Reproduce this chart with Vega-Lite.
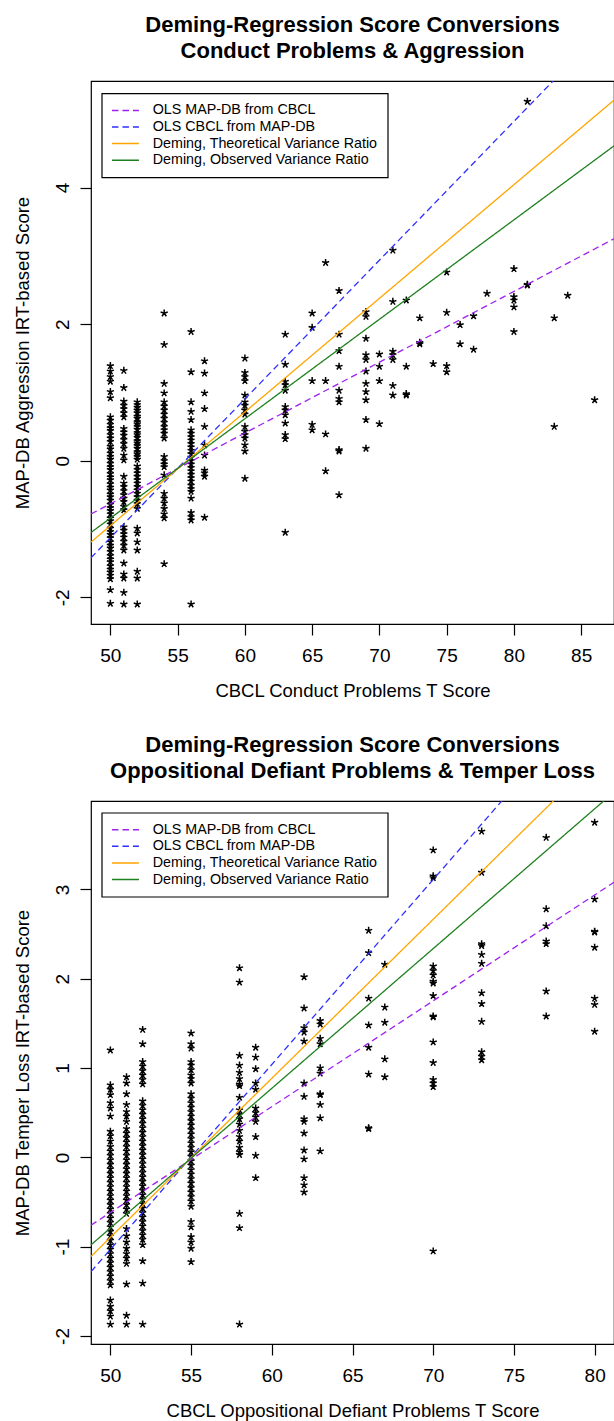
{
"$schema": "https://vega.github.io/schema/vega-lite/v6.json",
"padding": {"left": 12, "top": 13, "right": 2, "bottom": 4},
"background": "white",
"bounds": "flush",
"spacing": 177,
"resolve": {"scale": {"color": "independent", "strokeDash": "independent"}, "legend": {"color": "independent", "strokeDash": "independent"}},
"config": {
  "font": "Liberation Sans",
  "view": {"stroke": "black", "strokeWidth": 1.2},
  "axis": {"domain": false, "grid": false, "ticks": true, "tickColor": "black", "tickSize": 11, "tickWidth": 1.2, "labelFont": "Liberation Sans", "labelFontSize": 19, "labelColor": "black", "titleFont": "Liberation Sans", "titleFontSize": 18.5, "titleFontWeight": "normal", "titleColor": "black", "labelFlush": false, "labelOverlap": false, "labelExpr": "'' + datum.value"},
  "axisX": {"labelPadding": 11, "titlePadding": 16},
  "axisY": {"labelAngle": -90, "labelAlign": "center", "labelBaseline": "alphabetic", "labelPadding": 12, "titlePadding": 21},
  "title": {"font": "Liberation Sans", "fontSize": 22, "fontWeight": "bold", "color": "black", "anchor": "middle", "lineHeight": 26.6, "offset": 17.5},
  "legend": {"labelFont": "Liberation Sans", "labelFontSize": 14.3, "labelColor": "black", "strokeColor": "black", "strokeWidth": 1.2, "padding": 9.5, "fillColor": "white", "symbolStrokeWidth": 1.5, "labelOffset": 26.5, "rowPadding": 1.6, "labelLimit": 0}
},
"datasets": {
  "p1pts": [
    {"x":50,"y":1.39},{"x":50,"y":1.31},{"x":50,"y":1.23},{"x":50,"y":1.16},{"x":50,"y":1.01},{"x":50,"y":0.92},{"x":50,"y":0.64},{"x":50,"y":0.59},{"x":50,"y":0.53},{"x":50,"y":0.48},{"x":50,"y":0.44},{"x":50,"y":0.38},{"x":50,"y":0.33},{"x":50,"y":0.28},{"x":50,"y":0.21},{"x":50,"y":0.17},{"x":50,"y":0.11},{"x":50,"y":0.06},{"x":50,"y":0.02},{"x":50,"y":-0.04},{"x":50,"y":-0.09},{"x":50,"y":-0.13},{"x":50,"y":-0.19},{"x":50,"y":-0.24},{"x":50,"y":-0.28},{"x":50,"y":-0.34},{"x":50,"y":-0.39},{"x":50,"y":-0.43},{"x":50,"y":-0.49},{"x":50,"y":-0.53},{"x":50,"y":-0.58},{"x":50,"y":-0.64},{"x":50,"y":-0.69},{"x":50,"y":-0.73},{"x":50,"y":-0.78},{"x":50,"y":-0.84},{"x":50,"y":-0.88},{"x":50,"y":-0.93},{"x":50,"y":-0.99},{"x":50,"y":-1.04},{"x":50,"y":-1.08},{"x":50,"y":-1.13},{"x":50,"y":-1.19},{"x":50,"y":-1.24},{"x":50,"y":-1.28},{"x":50,"y":-1.33},{"x":50,"y":-1.39},{"x":50,"y":-1.44},{"x":50,"y":-1.48},{"x":50,"y":-1.54},{"x":50,"y":-1.59},{"x":50,"y":-1.63},{"x":50,"y":-1.68},{"x":50,"y":-1.73},{"x":50,"y":-1.89},{"x":50,"y":-2.09},
    {"x":51,"y":1.32},{"x":51,"y":1.07},{"x":51,"y":0.87},{"x":51,"y":0.81},{"x":51,"y":0.76},{"x":51,"y":0.70},{"x":51,"y":0.64},{"x":51,"y":0.47},{"x":51,"y":0.42},{"x":51,"y":0.37},{"x":51,"y":0.31},{"x":51,"y":0.25},{"x":51,"y":0.18},{"x":51,"y":0.08},{"x":51,"y":0.01},{"x":51,"y":-0.23},{"x":51,"y":-0.33},{"x":51,"y":-0.38},{"x":51,"y":-0.44},{"x":51,"y":-0.50},{"x":51,"y":-0.55},{"x":51,"y":-0.60},{"x":51,"y":-0.67},{"x":51,"y":-0.72},{"x":51,"y":-0.97},{"x":51,"y":-1.02},{"x":51,"y":-1.07},{"x":51,"y":-1.12},{"x":51,"y":-1.18},{"x":51,"y":-1.24},{"x":51,"y":-1.31},{"x":51,"y":-1.50},{"x":51,"y":-1.66},{"x":51,"y":-1.72},{"x":51,"y":-1.93},{"x":51,"y":-2.10},
    {"x":52,"y":0.86},{"x":52,"y":0.82},{"x":52,"y":0.78},{"x":52,"y":0.74},{"x":52,"y":0.70},{"x":52,"y":0.65},{"x":52,"y":0.62},{"x":52,"y":0.57},{"x":52,"y":0.54},{"x":52,"y":0.50},{"x":52,"y":0.46},{"x":52,"y":0.41},{"x":52,"y":0.38},{"x":52,"y":0.34},{"x":52,"y":0.29},{"x":52,"y":0.26},{"x":52,"y":0.22},{"x":52,"y":0.18},{"x":52,"y":0.13},{"x":52,"y":0.10},{"x":52,"y":0.06},{"x":52,"y":0.02},{"x":52,"y":-0.08},{"x":52,"y":-0.13},{"x":52,"y":-0.18},{"x":52,"y":-0.23},{"x":52,"y":-0.28},{"x":52,"y":-0.33},{"x":52,"y":-0.38},{"x":52,"y":-0.43},{"x":52,"y":-0.48},{"x":52,"y":-0.53},{"x":52,"y":-0.58},{"x":52,"y":-0.63},{"x":52,"y":-0.70},{"x":52,"y":-0.99},{"x":52,"y":-1.06},{"x":52,"y":-1.19},{"x":52,"y":-1.31},{"x":52,"y":-1.62},{"x":52,"y":-1.72},{"x":52,"y":-2.10},
    {"x":54,"y":2.16},{"x":54,"y":1.70},{"x":54,"y":1.13},{"x":54,"y":0.99},{"x":54,"y":0.86},{"x":54,"y":0.80},{"x":54,"y":0.74},{"x":54,"y":0.68},{"x":54,"y":0.62},{"x":54,"y":0.56},{"x":54,"y":0.50},{"x":54,"y":0.45},{"x":54,"y":0.40},{"x":54,"y":0.33},{"x":54,"y":0.06},{"x":54,"y":0.00},{"x":54,"y":-0.05},{"x":54,"y":-0.09},{"x":54,"y":-0.21},{"x":54,"y":-0.48},{"x":54,"y":-0.55},{"x":54,"y":-0.62},{"x":54,"y":-0.70},{"x":54,"y":-0.78},{"x":54,"y":-0.84},{"x":54,"y":-1.51},
    {"x":56,"y":1.89},{"x":56,"y":1.30},{"x":56,"y":0.86},{"x":56,"y":0.72},{"x":56,"y":0.60},{"x":56,"y":0.45},{"x":56,"y":0.40},{"x":56,"y":0.35},{"x":56,"y":0.30},{"x":56,"y":0.25},{"x":56,"y":0.20},{"x":56,"y":0.15},{"x":56,"y":0.10},{"x":56,"y":0.05},{"x":56,"y":0.00},{"x":56,"y":-0.05},{"x":56,"y":-0.10},{"x":56,"y":-0.15},{"x":56,"y":-0.20},{"x":56,"y":-0.25},{"x":56,"y":-0.30},{"x":56,"y":-0.36},{"x":56,"y":-0.41},{"x":56,"y":-0.45},{"x":56,"y":-0.55},{"x":56,"y":-0.76},{"x":56,"y":-0.82},{"x":56,"y":-0.87},{"x":56,"y":-2.10},
    {"x":57,"y":1.46},{"x":57,"y":1.28},{"x":57,"y":0.99},{"x":57,"y":0.76},{"x":57,"y":0.50},{"x":57,"y":0.23},{"x":57,"y":0.08},{"x":57,"y":-0.14},{"x":57,"y":-0.18},{"x":57,"y":-0.23},{"x":57,"y":-0.83},
    {"x":60,"y":1.50},{"x":60,"y":1.29},{"x":60,"y":1.23},{"x":60,"y":1.17},{"x":60,"y":0.96},{"x":60,"y":0.86},{"x":60,"y":0.81},{"x":60,"y":0.74},{"x":60,"y":0.68},{"x":60,"y":0.50},{"x":60,"y":0.43},{"x":60,"y":0.38},{"x":60,"y":0.33},{"x":60,"y":0.23},{"x":60,"y":0.14},{"x":60,"y":-0.26},
    {"x":63,"y":1.85},{"x":63,"y":1.41},{"x":63,"y":1.16},{"x":63,"y":1.11},{"x":63,"y":1.03},{"x":63,"y":0.79},{"x":63,"y":0.74},{"x":63,"y":0.67},{"x":63,"y":0.55},{"x":63,"y":0.38},{"x":63,"y":0.32},{"x":63,"y":-1.05},
    {"x":65,"y":2.16},{"x":65,"y":1.95},{"x":65,"y":1.17},{"x":65,"y":0.53},{"x":65,"y":0.45},
    {"x":66,"y":2.90},{"x":66,"y":1.17},{"x":66,"y":0.39},{"x":66,"y":-0.15},
    {"x":67,"y":2.49},{"x":67,"y":1.85},{"x":67,"y":1.61},{"x":67,"y":1.38},{"x":67,"y":1.03},{"x":67,"y":0.91},{"x":67,"y":0.86},{"x":67,"y":0.16},{"x":67,"y":0.14},{"x":67,"y":-0.50},
    {"x":69,"y":2.18},{"x":69,"y":2.11},{"x":69,"y":1.79},{"x":69,"y":1.55},{"x":69,"y":1.48},{"x":69,"y":1.31},{"x":69,"y":1.13},{"x":69,"y":1.01},{"x":69,"y":0.89},{"x":69,"y":0.60},{"x":69,"y":0.18},
    {"x":70,"y":1.56},{"x":70,"y":1.38},{"x":70,"y":1.17},{"x":70,"y":0.54},
    {"x":71,"y":3.08},{"x":71,"y":2.33},{"x":71,"y":1.60},{"x":71,"y":1.55},{"x":71,"y":1.48},{"x":71,"y":1.10},{"x":71,"y":0.96},
    {"x":72,"y":2.35},{"x":72,"y":1.38},{"x":72,"y":0.98},{"x":72,"y":0.96},
    {"x":73,"y":2.09},{"x":73,"y":1.73},{"x":73,"y":1.71},
    {"x":74,"y":1.42},
    {"x":75,"y":2.76},{"x":75,"y":2.17},{"x":75,"y":1.39},{"x":75,"y":1.30},
    {"x":76,"y":1.99},{"x":76,"y":1.71},
    {"x":77,"y":2.12},{"x":77,"y":1.63},
    {"x":78,"y":2.45},
    {"x":80,"y":2.81},{"x":80,"y":2.40},{"x":80,"y":2.35},{"x":80,"y":2.25},{"x":80,"y":1.89},
    {"x":81,"y":5.26},{"x":81,"y":2.58},{"x":81,"y":2.57},
    {"x":83,"y":2.09},{"x":83,"y":0.50},
    {"x":84,"y":2.42},
    {"x":86,"y":0.89}
  ],
  "p1lines": [
    {"series":"OLS MAP-DB from CBCL","x":48.56,"y":-0.78},{"series":"OLS MAP-DB from CBCL","x":87.44,"y":3.25},
    {"series":"OLS CBCL from MAP-DB","x":48.56,"y":-1.42},{"series":"OLS CBCL from MAP-DB","x":87.44,"y":6.48},
    {"series":"Deming, Theoretical Variance Ratio","x":48.56,"y":-1.19},{"series":"Deming, Theoretical Variance Ratio","x":87.44,"y":5.28},
    {"series":"Deming, Observed Variance Ratio","x":48.56,"y":-1.05},{"series":"Deming, Observed Variance Ratio","x":87.44,"y":4.61}
  ],
  "p2pts": [
    {"x":50,"y":1.20},{"x":50,"y":0.81},{"x":50,"y":0.76},{"x":50,"y":0.70},{"x":50,"y":0.61},{"x":50,"y":0.55},{"x":50,"y":0.46},{"x":50,"y":0.29},{"x":50,"y":0.24},{"x":50,"y":0.18},{"x":50,"y":0.12},{"x":50,"y":0.07},{"x":50,"y":0.02},{"x":50,"y":-0.03},{"x":50,"y":-0.08},{"x":50,"y":-0.13},{"x":50,"y":-0.18},{"x":50,"y":-0.23},{"x":50,"y":-0.28},{"x":50,"y":-0.33},{"x":50,"y":-0.38},{"x":50,"y":-0.43},{"x":50,"y":-0.48},{"x":50,"y":-0.53},{"x":50,"y":-0.58},{"x":50,"y":-0.63},{"x":50,"y":-0.68},{"x":50,"y":-0.73},{"x":50,"y":-0.78},{"x":50,"y":-0.83},{"x":50,"y":-0.88},{"x":50,"y":-0.93},{"x":50,"y":-0.98},{"x":50,"y":-1.03},{"x":50,"y":-1.08},{"x":50,"y":-1.13},{"x":50,"y":-1.18},{"x":50,"y":-1.23},{"x":50,"y":-1.28},{"x":50,"y":-1.33},{"x":50,"y":-1.38},{"x":50,"y":-1.43},{"x":50,"y":-1.60},{"x":50,"y":-1.67},{"x":50,"y":-1.72},{"x":50,"y":-1.78},{"x":50,"y":-1.87},
    {"x":51,"y":0.90},{"x":51,"y":0.83},{"x":51,"y":0.71},{"x":51,"y":0.59},{"x":51,"y":0.51},{"x":51,"y":0.46},{"x":51,"y":0.40},{"x":51,"y":0.32},{"x":51,"y":0.27},{"x":51,"y":0.22},{"x":51,"y":0.17},{"x":51,"y":0.12},{"x":51,"y":0.07},{"x":51,"y":0.02},{"x":51,"y":-0.03},{"x":51,"y":-0.08},{"x":51,"y":-0.13},{"x":51,"y":-0.18},{"x":51,"y":-0.23},{"x":51,"y":-0.28},{"x":51,"y":-0.33},{"x":51,"y":-0.38},{"x":51,"y":-0.43},{"x":51,"y":-0.48},{"x":51,"y":-0.53},{"x":51,"y":-0.58},{"x":51,"y":-0.63},{"x":51,"y":-0.80},{"x":51,"y":-0.88},{"x":51,"y":-0.95},{"x":51,"y":-1.02},{"x":51,"y":-1.08},{"x":51,"y":-1.13},{"x":51,"y":-1.19},{"x":51,"y":-1.42},{"x":51,"y":-1.77},{"x":51,"y":-1.87},
    {"x":52,"y":1.43},{"x":52,"y":1.27},{"x":52,"y":1.07},{"x":52,"y":1.02},{"x":52,"y":0.97},{"x":52,"y":0.92},{"x":52,"y":0.87},{"x":52,"y":0.82},{"x":52,"y":0.63},{"x":52,"y":0.58},{"x":52,"y":0.53},{"x":52,"y":0.48},{"x":52,"y":0.43},{"x":52,"y":0.38},{"x":52,"y":0.33},{"x":52,"y":0.28},{"x":52,"y":0.23},{"x":52,"y":0.18},{"x":52,"y":0.13},{"x":52,"y":0.08},{"x":52,"y":0.03},{"x":52,"y":-0.02},{"x":52,"y":-0.07},{"x":52,"y":-0.12},{"x":52,"y":-0.17},{"x":52,"y":-0.22},{"x":52,"y":-0.27},{"x":52,"y":-0.32},{"x":52,"y":-0.37},{"x":52,"y":-0.42},{"x":52,"y":-0.47},{"x":52,"y":-0.52},{"x":52,"y":-0.57},{"x":52,"y":-0.62},{"x":52,"y":-0.67},{"x":52,"y":-0.72},{"x":52,"y":-0.77},{"x":52,"y":-0.82},{"x":52,"y":-0.87},{"x":52,"y":-0.92},{"x":52,"y":-0.98},{"x":52,"y":-1.16},{"x":52,"y":-1.41},{"x":52,"y":-1.87},
    {"x":55,"y":1.39},{"x":55,"y":1.27},{"x":55,"y":1.22},{"x":55,"y":1.07},{"x":55,"y":1.03},{"x":55,"y":0.98},{"x":55,"y":0.92},{"x":55,"y":0.88},{"x":55,"y":0.83},{"x":55,"y":0.71},{"x":55,"y":0.66},{"x":55,"y":0.61},{"x":55,"y":0.56},{"x":55,"y":0.51},{"x":55,"y":0.46},{"x":55,"y":0.41},{"x":55,"y":0.36},{"x":55,"y":0.31},{"x":55,"y":0.26},{"x":55,"y":0.21},{"x":55,"y":0.16},{"x":55,"y":0.11},{"x":55,"y":0.06},{"x":55,"y":0.01},{"x":55,"y":-0.04},{"x":55,"y":-0.09},{"x":55,"y":-0.14},{"x":55,"y":-0.19},{"x":55,"y":-0.24},{"x":55,"y":-0.29},{"x":55,"y":-0.34},{"x":55,"y":-0.39},{"x":55,"y":-0.44},{"x":55,"y":-0.49},{"x":55,"y":-0.55},{"x":55,"y":-0.72},{"x":55,"y":-0.78},{"x":55,"y":-0.89},{"x":55,"y":-0.95},{"x":55,"y":-1.02},{"x":55,"y":-1.17},
    {"x":58,"y":2.12},{"x":58,"y":1.96},{"x":58,"y":1.14},{"x":58,"y":1.03},{"x":58,"y":0.95},{"x":58,"y":0.88},{"x":58,"y":0.82},{"x":58,"y":0.80},{"x":58,"y":0.67},{"x":58,"y":0.53},{"x":58,"y":0.48},{"x":58,"y":0.43},{"x":58,"y":0.37},{"x":58,"y":0.30},{"x":58,"y":0.23},{"x":58,"y":0.18},{"x":58,"y":0.11},{"x":58,"y":0.06},{"x":58,"y":0.03},{"x":58,"y":-0.63},{"x":58,"y":-0.79},{"x":58,"y":-1.87},
    {"x":59,"y":1.23},{"x":59,"y":1.12},{"x":59,"y":0.99},{"x":59,"y":0.83},{"x":59,"y":0.76},{"x":59,"y":0.55},{"x":59,"y":0.50},{"x":59,"y":0.45},{"x":59,"y":0.40},{"x":59,"y":0.23},{"x":59,"y":0.02},{"x":59,"y":-0.23},
    {"x":62,"y":2.02},{"x":62,"y":1.67},{"x":62,"y":1.45},{"x":62,"y":1.40},{"x":62,"y":1.30},{"x":62,"y":0.83},{"x":62,"y":0.68},{"x":62,"y":0.43},{"x":62,"y":0.40},{"x":62,"y":0.27},{"x":62,"y":0.08},{"x":62,"y":-0.02},{"x":62,"y":-0.23},{"x":62,"y":-0.31},{"x":62,"y":-0.39},
    {"x":63,"y":1.53},{"x":63,"y":1.49},{"x":63,"y":1.33},{"x":63,"y":1.27},{"x":63,"y":1.00},{"x":63,"y":0.94},{"x":63,"y":0.71},{"x":63,"y":0.70},{"x":63,"y":0.59},{"x":63,"y":0.44},{"x":63,"y":0.07},
    {"x":66,"y":2.54},{"x":66,"y":2.29},{"x":66,"y":1.78},{"x":66,"y":1.48},{"x":66,"y":1.23},{"x":66,"y":0.93},{"x":66,"y":0.32},{"x":66,"y":0.33},
    {"x":67,"y":2.16},{"x":67,"y":1.68},{"x":67,"y":1.51},{"x":67,"y":1.10},{"x":67,"y":0.90},
    {"x":70,"y":3.44},{"x":70,"y":3.15},{"x":70,"y":3.13},{"x":70,"y":2.14},{"x":70,"y":2.09},{"x":70,"y":2.04},{"x":70,"y":1.97},{"x":70,"y":1.95},{"x":70,"y":1.81},{"x":70,"y":1.58},{"x":70,"y":1.57},{"x":70,"y":1.29},{"x":70,"y":1.06},{"x":70,"y":0.87},{"x":70,"y":0.83},{"x":70,"y":0.79},{"x":70,"y":-1.05},
    {"x":73,"y":3.65},{"x":73,"y":3.19},{"x":73,"y":2.39},{"x":73,"y":2.37},{"x":73,"y":2.27},{"x":73,"y":2.17},{"x":73,"y":1.84},{"x":73,"y":1.72},{"x":73,"y":1.52},{"x":73,"y":1.18},{"x":73,"y":1.13},{"x":73,"y":1.09},
    {"x":77,"y":3.58},{"x":77,"y":2.78},{"x":77,"y":2.59},{"x":77,"y":2.42},{"x":77,"y":2.39},{"x":77,"y":1.86},{"x":77,"y":1.58},
    {"x":80,"y":3.75},{"x":80,"y":2.89},{"x":80,"y":2.53},{"x":80,"y":2.52},{"x":80,"y":2.35},{"x":80,"y":1.78},{"x":80,"y":1.71},{"x":80,"y":1.41}
  ],
  "p2lines": [
    {"series":"OLS MAP-DB from CBCL","x":48.8,"y":-0.76},{"series":"OLS MAP-DB from CBCL","x":81.2,"y":3.08},
    {"series":"OLS CBCL from MAP-DB","x":48.8,"y":-1.28},{"series":"OLS CBCL from MAP-DB","x":81.2,"y":5.43},
    {"series":"Deming, Theoretical Variance Ratio","x":48.8,"y":-1.11},{"series":"Deming, Theoretical Variance Ratio","x":81.2,"y":4.66},
    {"series":"Deming, Observed Variance Ratio","x":48.8,"y":-0.98},{"series":"Deming, Observed Variance Ratio","x":81.2,"y":4.09}
  ]
},
"vconcat": [
  {
    "width": 523, "height": 543,
    "title": {"text": ["Deming-Regression Score Conversions", "Conduct Problems & Aggression"]},
    "layer": [
      {
        "data": {"name": "p1pts"},
        "mark": {"type": "point", "shape": "M0,-1L0,0M0.951,-0.309L0,0M0.588,0.809L0,0M-0.588,0.809L0,0M-0.951,-0.309L0,0", "size": 56, "filled": false, "stroke": "black", "strokeWidth": 1.5, "opacity": 1, "clip": true},
        "encoding": {
          "x": {"field": "x", "type": "quantitative", "scale": {"domain": [48.56, 87.44], "nice": false, "zero": false}, "axis": {"values": [50, 55, 60, 65, 70, 75, 80, 85], "title": "CBCL Conduct Problems T Score"}},
          "y": {"field": "y", "type": "quantitative", "scale": {"domain": [-2.39, 5.56], "nice": false, "zero": false}, "axis": {"values": [-2, 0, 2, 4], "title": "MAP-DB Aggression IRT-based Score"}}
        }
      },
      {
        "data": {"name": "p1lines"},
        "mark": {"type": "line", "strokeWidth": 1.3, "clip": true},
        "encoding": {
          "x": {"field": "x", "type": "quantitative", "scale": {"domain": [48.56, 87.44], "nice": false, "zero": false}},
          "y": {"field": "y", "type": "quantitative", "scale": {"domain": [-2.39, 5.56], "nice": false, "zero": false}},
          "color": {"field": "series", "type": "nominal", "scale": {"domain": ["OLS MAP-DB from CBCL", "OLS CBCL from MAP-DB", "Deming, Theoretical Variance Ratio", "Deming, Observed Variance Ratio"], "range": ["#A020F0", "#2f2fff", "#FFA500", "#1F801F"]}, "legend": {"title": null, "orient": "none", "legendX": 10.7, "legendY": 12.4, "symbolType": "M-1,0H3", "symbolSize": 182}},
          "strokeDash": {"field": "series", "type": "nominal", "scale": {"domain": ["OLS MAP-DB from CBCL", "OLS CBCL from MAP-DB", "Deming, Theoretical Variance Ratio", "Deming, Observed Variance Ratio"], "range": [[6.5, 4], [6.5, 4], [1, 0], [1, 0]]}, "legend": {"title": null, "orient": "none", "legendX": 10.7, "legendY": 12.4, "symbolType": "M-1,0H3", "symbolSize": 182}}
        }
      }
    ]
  },
  {
    "width": 523, "height": 543,
    "title": {"text": ["Deming-Regression Score Conversions", "Oppositional Defiant Problems & Temper Loss"]},
    "layer": [
      {
        "data": {"name": "p2pts"},
        "mark": {"type": "point", "shape": "M0,-1L0,0M0.951,-0.309L0,0M0.588,0.809L0,0M-0.588,0.809L0,0M-0.951,-0.309L0,0", "size": 56, "filled": false, "stroke": "black", "strokeWidth": 1.5, "opacity": 1, "clip": true},
        "encoding": {
          "x": {"field": "x", "type": "quantitative", "scale": {"domain": [48.8, 81.2], "nice": false, "zero": false}, "axis": {"values": [50, 55, 60, 65, 70, 75, 80], "title": "CBCL Oppositional Defiant Problems T Score"}},
          "y": {"field": "y", "type": "quantitative", "scale": {"domain": [-2.09, 3.99], "nice": false, "zero": false}, "axis": {"values": [-2, -1, 0, 1, 2, 3], "title": "MAP-DB Temper Loss IRT-based Score"}}
        }
      },
      {
        "data": {"name": "p2lines"},
        "mark": {"type": "line", "strokeWidth": 1.3, "clip": true},
        "encoding": {
          "x": {"field": "x", "type": "quantitative", "scale": {"domain": [48.8, 81.2], "nice": false, "zero": false}},
          "y": {"field": "y", "type": "quantitative", "scale": {"domain": [-2.09, 3.99], "nice": false, "zero": false}},
          "color": {"field": "series", "type": "nominal", "scale": {"domain": ["OLS MAP-DB from CBCL", "OLS CBCL from MAP-DB", "Deming, Theoretical Variance Ratio", "Deming, Observed Variance Ratio"], "range": ["#A020F0", "#2f2fff", "#FFA500", "#1F801F"]}, "legend": {"title": null, "orient": "none", "legendX": 10.7, "legendY": 11.7, "symbolType": "M-1,0H3", "symbolSize": 182}},
          "strokeDash": {"field": "series", "type": "nominal", "scale": {"domain": ["OLS MAP-DB from CBCL", "OLS CBCL from MAP-DB", "Deming, Theoretical Variance Ratio", "Deming, Observed Variance Ratio"], "range": [[6.5, 4], [6.5, 4], [1, 0], [1, 0]]}, "legend": {"title": null, "orient": "none", "legendX": 10.7, "legendY": 11.7, "symbolType": "M-1,0H3", "symbolSize": 182}}
        }
      }
    ]
  }
]
}
